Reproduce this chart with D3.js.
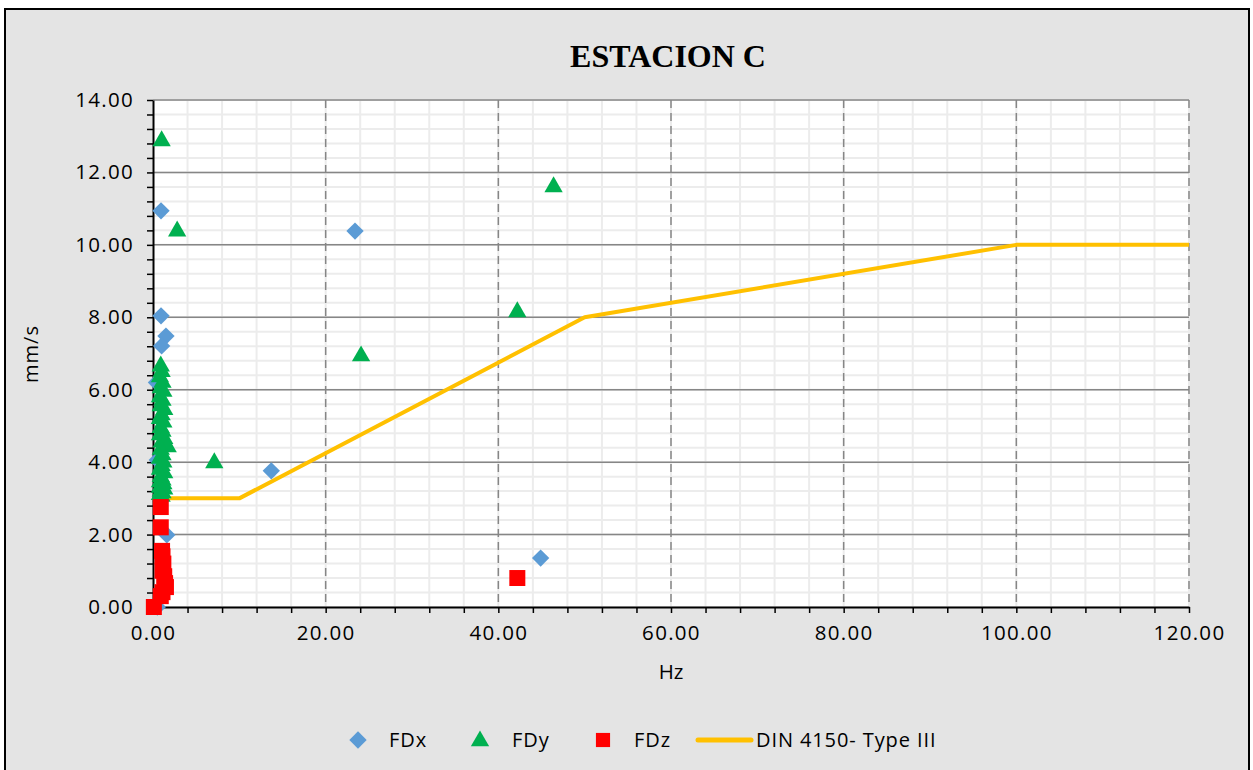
<!DOCTYPE html>
<html>
<head>
<meta charset="utf-8">
<script src="https://cdn.jsdelivr.net/npm/d3@7"></script>
<style>
  body { margin: 0; background: #fff; }
  svg text { font-family: "Open Sans", sans-serif; fill: #000; }
</style>
</head>
<body>
<div id="chart"></div>
<script>
// values
var fdxX = [0.93, 0.93, 1.5, 1.0, 23.4, 13.7, 44.9, 1.6, 0.4, 0.5, 0.5];
var fdxY = [10.94, 8.04, 7.48, 7.21, 10.38, 3.76, 1.35, 1.99, 6.2, 4.06, 0.0];

var fdyX = [1.0, 46.4, 2.8, 42.2, 24.1, 7.1,
  0.9, 1.0, 0.8, 1.1, 0.9, 1.2, 0.8, 1.1, 0.9, 1.3, 1.0, 0.8, 1.2, 0.9, 1.1,
  0.8, 1.3, 1.0, 1.4, 1.7, 0.9, 1.1, 0.8, 1.2, 1.0, 0.8, 1.3, 0.9, 1.1, 0.8,
  1.2, 1.0, 0.8, 1.3, 0.9, 1.1, 0.8, 1.0];
var fdyY = [12.87, 11.6, 10.38, 8.15, 6.93, 3.98,
  6.65, 6.5, 6.35, 6.2, 6.05, 5.95, 5.8, 5.7, 5.55, 5.45, 5.3, 5.2, 5.1, 4.95, 4.85,
  4.75, 4.65, 4.55, 4.5, 4.42, 4.35, 4.2, 4.1, 4.0, 3.9, 3.8, 3.7, 3.6, 3.5, 3.45,
  3.4, 3.35, 3.3, 3.25, 3.2, 3.15, 3.1, 3.05];

var fdzX = [0.1, 0.9, 0.9, 1.05, 1.1, 1.2, 1.1, 1.3, 1.4, 1.5, 1.1, 0.9, 42.2];
var fdzY = [0.0, 2.76, 2.2, 1.55, 1.4, 1.2, 1.0, 0.85, 0.66, 0.55, 0.41, 0.3, 0.8];

var dinX = [0, 10, 50, 100, 120];
var dinY = [3, 3, 8, 10, 10];

var xTicks = [0, 20, 40, 60, 80, 100, 120];
var yTicks = [0, 2, 4, 6, 8, 10, 12, 14];

const W = 1253, H = 770;
const pLeft = 153, pRight = 1189, pTop = 100, pBottom = 607;

const svg = d3.select("#chart").append("svg")
  .attr("width", W).attr("height", H);

// chart area background + border
svg.append("rect")
  .attr("x", 5).attr("y", 9).attr("width", 1244).attr("height", 780)
  .attr("fill", "#e4e4e4").attr("stroke", "#000").attr("stroke-width", 2);

const x = d3.scaleLinear().domain([0, 120]).range([pLeft, pRight]);
const y = d3.scaleLinear().domain([0, 14]).range([pBottom, pTop]);

// plot area
svg.append("rect")
  .attr("x", pLeft).attr("y", pTop)
  .attr("width", pRight - pLeft).attr("height", pBottom - pTop)
  .attr("fill", "#fff");

// minor grid
const g = svg.append("g");
g.selectAll(".mx").data(d3.range(0, 120.01, 4)).enter().append("line")
  .attr("x1", d => x(d)).attr("x2", d => x(d))
  .attr("y1", pTop).attr("y2", pBottom)
  .attr("stroke", "#ececec").attr("stroke-width", 2);
g.selectAll(".my").data(d3.range(0, 14.01, 0.4)).enter().append("line")
  .attr("x1", pLeft).attr("x2", pRight)
  .attr("y1", d => y(d)).attr("y2", d => y(d))
  .attr("stroke", "#ececec").attr("stroke-width", 2);

// major grid
g.selectAll(".gy").data(yTicks.slice(1)).enter().append("line")
  .attr("x1", pLeft).attr("x2", pRight)
  .attr("y1", d => y(d)).attr("y2", d => y(d))
  .attr("stroke", "#868686").attr("stroke-width", 1.5);
g.selectAll(".gx").data(xTicks.slice(1)).enter().append("line")
  .attr("x1", d => x(d)).attr("x2", d => x(d))
  .attr("y1", pTop).attr("y2", pBottom)
  .attr("stroke", "#868686").attr("stroke-width", 1.5)
  .attr("stroke-dasharray", "8,5");

// axes
const xAxis = svg.append("g")
  .attr("transform", `translate(0,${pBottom})`)
  .call(d3.axisBottom(x).tickValues(d3.range(0, 120.01, 4))
    .tickFormat(d => xTicks.includes(d) ? d3.format(".2f")(d) : "")
    .tickSize(6).tickSizeOuter(0));
xAxis.select(".domain").attr("stroke", "#000").attr("stroke-width", 2);
xAxis.selectAll(".tick line").attr("stroke", "#000").attr("stroke-width", 1.5);
xAxis.selectAll("text").attr("font-size", 20.5).attr("y", 14).attr("dy", "0.95em")
  .attr("letter-spacing", 1.3);

const yAxis = svg.append("g")
  .attr("transform", `translate(${pLeft},0)`)
  .call(d3.axisLeft(y).tickValues(d3.range(0, 14.01, 0.4).map(d => +d.toFixed(1)))
    .tickFormat(d => yTicks.includes(d) ? d3.format(".2f")(d) : "")
    .tickSize(6).tickSizeOuter(0));
yAxis.select(".domain").attr("stroke", "#000").attr("stroke-width", 2);
yAxis.selectAll(".tick line").attr("stroke", "#000").attr("stroke-width", 1.5);
yAxis.selectAll("text").attr("font-size", 20.5).attr("x", -19)
  .attr("letter-spacing", 1.3);

// DIN line
const line = d3.line().x(d => x(d[0])).y(d => y(d[1]));
svg.append("path")
  .datum(d3.zip(dinX, dinY))
  .attr("d", line)
  .attr("fill", "none").attr("stroke", "#ffc000").attr("stroke-width", 4)
  .attr("stroke-linejoin", "round");

// markers
const sym = (type, size) => d3.symbol().type(type).size(size)();
svg.selectAll(".fdx").data(d3.zip(fdxX, fdxY)).enter().append("path")
  .attr("d", sym(d3.symbolSquare, 150))
  .attr("transform", d => `translate(${x(d[0])},${y(d[1])}) rotate(45)`)
  .attr("fill", "#5b9bd5");
svg.selectAll(".fdy").data(d3.zip(fdyX, fdyY)).enter().append("path")
  .attr("d", sym(d3.symbolTriangle, 145))
  .attr("transform", d => `translate(${x(d[0])},${y(d[1])})`)
  .attr("fill", "#00b050");
svg.selectAll(".fdz").data(d3.zip(fdzX, fdzY)).enter().append("path")
  .attr("d", sym(d3.symbolSquare, 256))
  .attr("transform", d => `translate(${x(d[0])},${y(d[1])})`)
  .attr("fill", "#ff0000");

// title & axis titles
svg.append("text").attr("x", 668).attr("y", 67).attr("text-anchor", "middle")
  .attr("font-weight", "bold")
  .attr("font-size", 32).style("font-family", "Liberation Serif")
  .text("ESTACION C");
svg.append("text").attr("transform", "translate(38,354) rotate(-90)")
  .attr("text-anchor", "middle").attr("font-size", 20).attr("letter-spacing", 1)
  .text("mm/s");
svg.append("text").attr("x", 671).attr("y", 679)
  .attr("text-anchor", "middle").attr("font-size", 20.5).text("Hz");

// legend
const lg = svg.append("g").attr("font-size", 20).attr("letter-spacing", 0.9);
lg.append("path").attr("d", sym(d3.symbolSquare, 150))
  .attr("transform", "translate(358,740) rotate(45)").attr("fill", "#5b9bd5");
lg.append("text").attr("x", 389).attr("y", 747).text("FDx");
lg.append("path").attr("d", sym(d3.symbolTriangle, 145))
  .attr("transform", "translate(480,741)").attr("fill", "#00b050");
lg.append("text").attr("x", 512).attr("y", 747).text("FDy");
lg.append("path").attr("d", sym(d3.symbolSquare, 200))
  .attr("transform", "translate(603,740)").attr("fill", "#ff0000");
lg.append("text").attr("x", 634).attr("y", 747).text("FDz");
lg.append("line").attr("x1", 698).attr("x2", 751).attr("y1", 740).attr("y2", 740)
  .attr("stroke", "#ffc000").attr("stroke-width", 5).attr("stroke-linecap", "round");
lg.append("text").attr("x", 756).attr("y", 747).text("DIN 4150- Type III");
</script>
</body>
</html>
